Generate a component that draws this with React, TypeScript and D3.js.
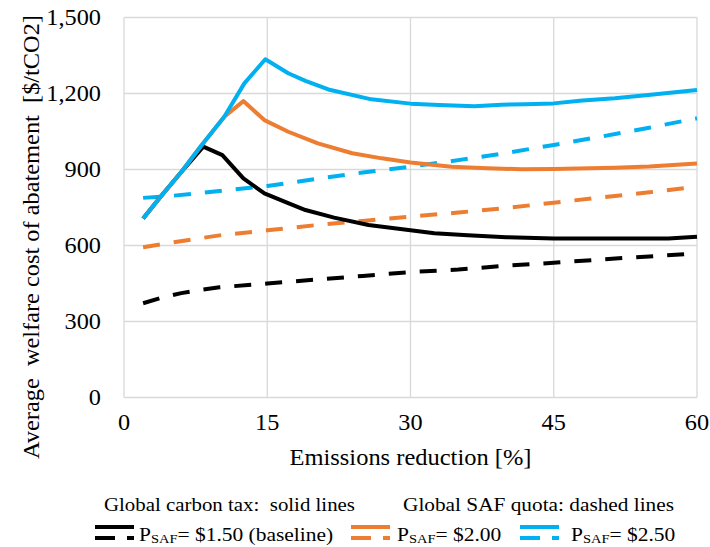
import React from 'react';
import * as d3 from 'd3';

// x = emissions reduction [%], y = average welfare cost of abatement [$/tCO2]
const blackSolidX = [2, 4, 6, 8.3, 10.3, 12.5, 14.7, 17, 19, 22, 25.6, 30, 32.5, 36, 40, 45, 50, 55, 57, 60];
const blackSolidY = [707, 800, 890, 990, 957, 865, 806, 770, 740, 710, 681, 660, 648, 640, 633, 628, 628, 628, 628, 635];

const orangeSolidX = [2, 4, 6, 8, 10.5, 12.5, 14.7, 17.2, 20.3, 23.9, 27, 30, 34.3, 38, 41.6, 45, 51.4, 55, 60];
const orangeSolidY = [707, 800, 890, 990, 1108, 1170, 1095, 1049, 1003, 964, 944, 928, 911, 905, 901, 902, 907, 912, 924];

const blueSolidX = [2, 4, 6, 8, 10.5, 12.6, 14.8, 17.2, 19, 21.4, 25.9, 30, 33, 36.7, 39.5, 42, 45, 48, 51.4, 54.9, 60];
const blueSolidY = [707, 800, 890, 990, 1108, 1240, 1335, 1280, 1250, 1216, 1177, 1160, 1155, 1150, 1156, 1158, 1161, 1172, 1181, 1194, 1214];

const blackDashX = [2, 4, 6, 8, 10, 13, 15, 20, 25, 30, 35, 40, 45, 50, 55, 60];
const blackDashY = [372, 395, 412, 425, 435, 444, 450, 465, 480, 495, 505, 520, 532, 545, 557, 569];

const orangeDashX = [2, 5, 10, 15, 20, 25, 30, 35, 40, 45, 50, 55, 60];
const orangeDashY = [593, 612, 640, 660, 680, 697, 714, 730, 748, 769, 790, 810, 832];

const blueDashX = [2, 5, 10, 15, 20, 25, 30, 35, 40, 45, 50, 55, 60];
const blueDashY = [788, 796, 815, 835, 862, 888, 911, 937, 965, 997, 1030, 1065, 1102];

const xTicks = [0, 15, 30, 45, 60];
const yTicks = [0, 300, 600, 900, 1200, 1500];

const legendPrices = ['$1.50 (baseline)', '$2.00', '$2.50'];

const BLACK = '#000000';
const ORANGE = '#ED7D31';
const BLUE = '#00B0F0';
const GRID = '#D9D9D9';
const FONT = "'Liberation Serif', 'DejaVu Serif', serif";

export default function App() {
    const x = d3.scaleLinear().domain([0, 60]).range([124, 697]);
    const y = d3.scaleLinear().domain([0, 1500]).range([397.5, 17.5]);

    const path = (xs: number[], ys: number[]) =>
        d3.line<[number, number]>()
            .x(d => x(d[0]))
            .y(d => y(d[1]))(xs.map((v, i) => [v, ys[i]]));

    const dashed = [
        { xs: blackDashX, ys: blackDashY, color: BLACK },
        { xs: orangeDashX, ys: orangeDashY, color: ORANGE },
        { xs: blueDashX, ys: blueDashY, color: BLUE },
    ];
    const solid = [
        { xs: blackSolidX, ys: blackSolidY, color: BLACK },
        { xs: orangeSolidX, ys: orangeSolidY, color: ORANGE },
        { xs: blueSolidX, ys: blueSolidY, color: BLUE },
    ];

    const legendColors = [BLACK, ORANGE, BLUE];
    const legendSymX = [95, 351, 520];
    const legendTextX = [139, 397, 571];

    return (
        <svg width={710} height={547}
            style={{ position: 'absolute', left: 0, top: 0, background: '#fff', fontFamily: FONT }}>
            {/* grid */}
            {yTicks.map(t => (
                <line key={'gy' + t} x1={x(0)} x2={x(60)} y1={y(t)} y2={y(t)} stroke={GRID} strokeWidth={1.3} />
            ))}
            {xTicks.map(t => (
                <line key={'gx' + t} x1={x(t)} x2={x(t)} y1={y(0)} y2={y(1500)} stroke={GRID} strokeWidth={1.3} />
            ))}

            {/* tick labels */}
            {yTicks.map(t => (
                <text key={'ly' + t} transform={`translate(101,${y(t)}) scale(1.08,1)`} dy="0.35em"
                    textAnchor="end" fontSize={22.5}>
                    {d3.format(',')(t)}
                </text>
            ))}
            {xTicks.map(t => (
                <text key={'lx' + t} transform={`translate(${x(t)},430) scale(1.08,1)`} textAnchor="middle"
                    fontSize={22.5}>{t}</text>
            ))}

            {/* axis titles */}
            <text x={410.5} y={465} textAnchor="middle" fontSize={22.5} textLength={242}
                lengthAdjust="spacingAndGlyphs">Emissions reduction [%]</text>
            <text transform="translate(39,237) rotate(-90)" textAnchor="middle" fontSize={22.5}
                textLength={444} lengthAdjust="spacingAndGlyphs" style={{ whiteSpace: 'pre' }}>
                {'Average  welfare cost of abatement  [$/tCO2]'}
            </text>

            {/* series */}
            {dashed.map((s, i) => (
                <path key={'d' + i} d={path(s.xs, s.ys) || ''} fill="none" stroke={s.color} strokeWidth={4}
                    strokeDasharray="17,14" strokeLinejoin="round" />
            ))}
            {solid.map((s, i) => (
                <path key={'s' + i} d={path(s.xs, s.ys) || ''} fill="none" stroke={s.color} strokeWidth={4}
                    strokeLinejoin="round" />
            ))}

            {/* legend */}
            <text x={104} y={511} fontSize={18.5} textLength={251} lengthAdjust="spacingAndGlyphs"
                style={{ whiteSpace: 'pre' }}>{'Global carbon tax:  solid lines'}</text>
            <text x={403} y={511} fontSize={18.5} textLength={271} lengthAdjust="spacingAndGlyphs"
                style={{ whiteSpace: 'pre' }}>{'Global SAF quota: dashed lines'}</text>
            {legendColors.map((c, i) => {
                const sx = legendSymX[i];
                return (
                    <g key={'lg' + i}>
                        <line x1={sx} x2={sx + 39} y1={527} y2={527} stroke={c} strokeWidth={4} />
                        <line x1={sx} x2={sx + 20} y1={538} y2={538} stroke={c} strokeWidth={4} />
                        <line x1={sx + 32} x2={sx + 39} y1={538} y2={538} stroke={c} strokeWidth={4} />
                        <text transform={`translate(${legendTextX[i]},541) scale(1.16,1)`} fontSize={18.5}>
                            P<tspan fontSize={12.5} dy={2}>SAF</tspan><tspan dy={-2}>{'= ' + legendPrices[i]}</tspan>
                        </text>
                    </g>
                );
            })}
        </svg>
    );
}
